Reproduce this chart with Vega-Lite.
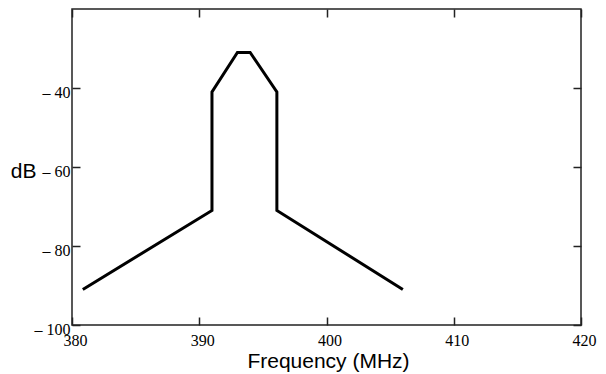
{
  "$schema": "https://vega.github.io/schema/vega-lite/v6.json",
  "width": 509,
  "height": 316,
  "autosize": {"type": "none"},
  "padding": {"left": 72, "top": 9, "right": 25, "bottom": 49},
  "background": "white",
  "config": {"view": {"stroke": "#222", "strokeWidth": 1.5}},
  "data": {"values": [
    {"freq": 380.85, "db": -91},
    {"freq": 391.0, "db": -71},
    {"freq": 391.0, "db": -41},
    {"freq": 393.0, "db": -31},
    {"freq": 394.0, "db": -31},
    {"freq": 396.1, "db": -41},
    {"freq": 396.1, "db": -71},
    {"freq": 406.0, "db": -91}
  ]},
  "mark": {"type": "line", "color": "black", "strokeWidth": 3},
  "encoding": {
    "x": {"field": "freq", "type": "quantitative", "scale": {"domain": [380, 420], "nice": false, "zero": false},
      "axis": {"orient": "bottom", "values": [380, 390, 400, 410, 420], "domain": false, "ticks": false,
        "grid": true, "gridColor": "#222", "gridWidth": 1.5, "gridOpacity": 1, "gridDash": [8, 300, 8],
        "labelFont": "Liberation Serif", "labelFontSize": 16, "labelColor": "black", "labelBaseline": "alphabetic",
        "labelPadding": 20, "labelOffset": 3, "labelFlush": false,
        "title": "Frequency (MHz)", "titleFont": "Liberation Sans", "titleFontSize": 21, "titleFontWeight": "normal",
        "titleColor": "black", "titleX": 256, "titleY": 42, "titleBaseline": "alphabetic", "titleAlign": "center"}},
    "y": {"field": "db", "type": "quantitative", "scale": {"domain": [-100, -20], "nice": false, "zero": false},
      "axis": {"orient": "left", "values": [-100, -80, -60, -40], "domain": false, "ticks": false,
        "grid": true, "gridColor": "#222", "gridWidth": 1.5, "gridOpacity": 1, "gridDash": [8, 493, 8],
        "labelFont": "Liberation Serif", "labelFontSize": 16, "labelColor": "black", "labelBaseline": "middle",
        "labelPadding": 2, "labelOffset": 4, "labelFlush": false,
        "labelExpr": "datum.value < 0 ? '\u2013 ' + (-datum.value) : datum.label",
        "title": "dB", "titleFont": "Liberation Sans", "titleFontSize": 21, "titleFontWeight": "normal",
        "titleColor": "black", "titleAngle": 0, "titleX": -36, "titleY": 168, "titleAlign": "right", "titleBaseline": "alphabetic"}}
  }
}
